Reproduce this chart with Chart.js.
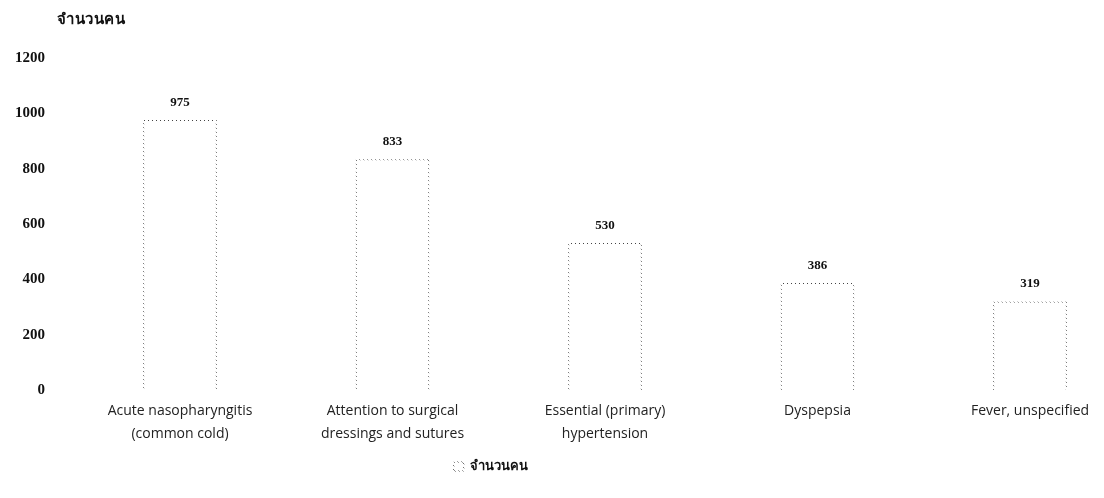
<!DOCTYPE html>
<html><head><meta charset="utf-8">
<script src="https://cdn.jsdelivr.net/npm/chart.js@4.4.0/dist/chart.umd.min.js"></script>
<style>
html,body{margin:0;padding:0;background:#fff;overflow:hidden}
#wrap{position:relative;width:1104px;height:498px}
#ttl{position:absolute;left:57px;top:7px;font:bold 15px "Liberation Serif","DejaVu Serif",serif;color:#111;letter-spacing:0.5px}
canvas{display:block}
</style></head><body>
<div id="wrap"><div id="ttl">จำนวนคน</div><canvas id="c" width="1104" height="498"></canvas></div>
<script>
const categories = [
  ["Acute nasopharyngitis", "(common cold)"],
  ["Attention to surgical", "dressings and sutures"],
  ["Essential (primary)", "hypertension"],
  ["Dyspepsia"],
  ["Fever, unspecified"]
];
const seriesName = "จำนวนคน";
const values = [975, 833, 530, 386, 319];
const yTickLabels = [0, 200, 400, 600, 800, 1000, 1200];

function dotPattern(){
  const c = document.createElement('canvas'); c.width = 4; c.height = 4;
  const g = c.getContext('2d'); g.fillStyle = '#444';
  for (let i = 0; i < 4; i++) g.fillRect(i, i, 1, 1);
  return g.createPattern(c, 'repeat');
}
const pat = dotPattern();

const valueLabels = {
  id: 'valueLabels',
  afterDatasetsDraw(chart){
    const ctx = chart.ctx, meta = chart.getDatasetMeta(0);
    ctx.save();
    ctx.font = 'bold 13px "Liberation Serif", serif';
    ctx.fillStyle = '#111'; ctx.textAlign = 'center'; ctx.textBaseline = 'middle';
    meta.data.forEach((bar, i) => ctx.fillText(String(chart.data.datasets[0].data[i]), bar.x, bar.y - 18));
    ctx.restore();
  }
};
const legendShift = {
  id: 'legendShift',
  afterLayout(chart){
    const lg = chart.legend; if (!lg) return;
    lg.left -= 24; lg.right -= 24;
  }
};

new Chart(document.getElementById('c'), {
  type: 'bar',
  data: {
    labels: categories,
    datasets: [{
      label: seriesName,
      data: values,
      backgroundColor: '#ffffff',
      borderColor: pat,
      borderWidth: 1,
      barThickness: 73,
      clip: false
    }]
  },
  options: {
    responsive: false,
    animation: false,
    layout: { padding: { top: 58, right: 74, bottom: 15, left: 0 } },
    plugins: {
      tooltip: { enabled: false },
      legend: {
        position: 'bottom',
        labels: {
          boxWidth: 10, boxHeight: 9, padding: 10,
          color: '#111',
          font: { family: '"Liberation Serif", serif', size: 13, weight: 'bold' }
        }
      }
    },
    scales: {
      x: {
        offset: false,
        grid: { display: false, drawTicks: false },
        border: { display: false },
        ticks: {
          autoSkip: false, maxRotation: 0, padding: 9,
          color: '#222',
          font: { family: '"Open Sans", sans-serif', size: 14, lineHeight: 1.65 }
        },
        afterFit(s){ s.height = 60; }
      },
      y: {
        min: 0, max: 1200,
        grid: { display: false, drawTicks: false },
        border: { display: false },
        ticks: {
          stepSize: 200, padding: 135,
          color: '#111',
          font: { family: '"Liberation Serif", serif', size: 15, weight: 'bold' },
          callback: (v) => yTickLabels.includes(v) ? String(v) : ''
        },
        afterFit(s){ s.width = 180; s.paddingTop = 8; s.paddingBottom = 8; }
      }
    }
  },
  plugins: [valueLabels, legendShift]
});
</script>
</body></html>
